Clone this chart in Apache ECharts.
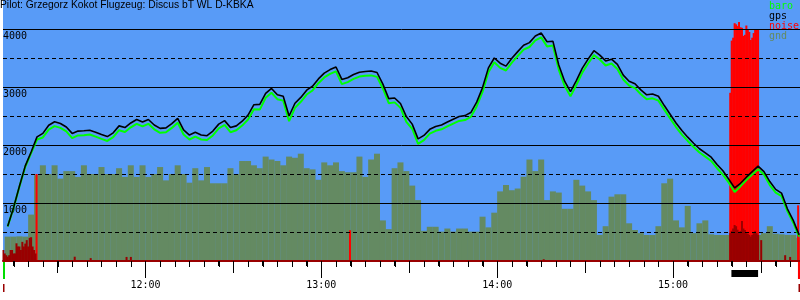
<!DOCTYPE html>
<html><head><meta charset="utf-8">
<script src="https://cdn.jsdelivr.net/npm/echarts@6/dist/echarts.min.js"></script>
<style>html,body{margin:0;padding:0;background:#fff}#c{width:800px;height:300px}</style>
</head><body><div id="c"></div>
<script>
// ---- data ----
const titleText = 'Pilot: Grzegorz Kokot Flugzeug: Discus bT WL D-KBKA';
const axisStart = '11:11:24';
const axisEnd = '15:43:18';
const trackTimes = [
'11:13','11:15','11:17','11:19','11:21','11:23','11:25','11:27','11:29','11:31','11:33','11:35','11:37','11:39','11:41','11:43','11:45','11:47','11:49','11:51','11:53','11:55','11:57','11:59',
'12:01','12:03','12:05','12:07','12:09','12:11','12:13','12:15','12:17','12:19','12:21','12:23','12:25','12:27','12:29','12:31','12:33','12:35','12:37','12:39','12:41','12:43','12:45','12:47','12:49','12:51','12:53','12:55','12:57','12:59',
'13:01','13:03','13:05','13:07','13:09','13:11','13:13','13:15','13:17','13:19','13:21','13:23','13:25','13:27','13:29','13:31','13:33','13:35','13:37','13:39','13:41','13:43','13:45','13:47','13:49','13:51','13:53','13:55','13:57','13:59',
'14:01','14:03','14:05','14:07','14:09','14:11','14:13','14:15','14:17','14:19','14:21','14:23','14:25','14:27','14:29','14:31','14:33','14:35','14:37','14:39','14:41','14:43','14:45','14:47','14:49','14:51','14:53','14:55','14:57','14:59',
'15:01','15:03','15:05','15:07','15:09','15:11','15:13','15:15','15:17','15:19','15:21','15:23','15:25','15:27','15:29','15:31','15:33','15:35','15:37','15:39','15:41','15:43'];
const gps = [
600,920,1290,1640,1880,2140,2200,2340,2400,2370,
2310,2200,2240,2245,2255,2220,2180,2145,2210,2330,
2300,2380,2440,2395,2440,2345,2287,2295,2370,2460,
2260,2172,2220,2172,2160,2240,2360,2420,2300,2330,
2410,2515,2695,2700,2890,2975,2865,2840,2500,2720,
2820,2945,3015,3140,3240,3300,3345,3130,3160,3215,
3255,3268,3276,3250,3050,2800,2810,2715,2490,2360,
2105,2165,2270,2320,2345,2395,2445,2490,2506,2560,
2740,2990,3330,3500,3410,3360,3495,3610,3720,3765,
3880,3930,3780,3790,3380,3100,2920,3110,3320,3480,
3626,3550,3450,3480,3390,3205,3100,3055,2950,2865,
2880,2840,2680,2530,2380,2250,2135,2030,1935,1865,
1790,1665,1555,1410,1260,1340,1445,1540,1635,1540,
1370,1235,1170,900,700,450];
const baro = [
595,915,1280,1625,1860,2095,2130,2265,2325,2295,
2235,2120,2165,2170,2180,2145,2105,2070,2135,2255,
2225,2305,2365,2320,2365,2270,2210,2220,2295,2385,
2180,2095,2145,2095,2085,2165,2285,2345,2220,2255,
2335,2440,2615,2610,2815,2900,2790,2765,2410,2640,
2745,2870,2940,3065,3165,3225,3270,3050,3085,3140,
3180,3193,3200,3175,2975,2720,2735,2640,2400,2280,
2020,2085,2195,2245,2270,2320,2370,2415,2430,2485,
2665,2915,3255,3425,3330,3285,3420,3535,3645,3690,
3805,3855,3700,3715,3300,3020,2840,3035,3245,3405,
3550,3475,3370,3405,3310,3130,3025,2980,2875,2790,
2805,2765,2610,2460,2310,2180,2070,1965,1870,1800,
1725,1600,1490,1350,1190,1290,1395,1490,1580,1490,
1310,1180,1120,860,660,420];
const gnd = [
420,420,425,420,800,1480,1650,1500,1650,1420,
1550,1550,1450,1650,1500,1500,1620,1500,1500,1600,
1450,1650,1450,1650,1450,1500,1620,1390,1500,1650,
1500,1350,1600,1390,1620,1340,1340,1340,1600,1500,
1724,1724,1650,1600,1800,1750,1724,1650,1800,1780,
1850,1600,1580,1400,1700,1650,1700,1550,1530,1530,
1800,1450,1750,1850,700,550,1600,1700,1550,1300,
1050,520,590,590,506,560,506,560,560,506,
506,764,580,833,1200,1310,1220,1250,1453,1750,
1550,1750,1050,1200,1180,900,900,1400,1300,1200,
1050,450,600,1109,1150,1150,650,534,480,448,
448,600,1340,1420,700,580,950,480,650,700,
460,448,448,448,448,448,448,448,448,480,
600,470,460,450,450,400];
const noiseTimes = ['11:22:51','13:09:47',
'15:19:30','15:20:00','15:20:30','15:21:00','15:21:30','15:22:00','15:22:30','15:23:00','15:23:30','15:24:00',
'15:24:30','15:25:00','15:25:30','15:26:00','15:26:30','15:27:00','15:27:30','15:28:00','15:28:30','15:29:00',
'15:42:40','15:42:50'];
const noiseValues = [1500,530,
2900,3800,3850,4100,4080,4050,4120,4030,4020,3880,
3900,4060,3990,3950,3810,3850,3930,3990,4000,3990,
960,480];
const noiseDarkTimes = ['11:11:30','11:12:00','11:12:30','11:13:00','11:13:30','11:14:00','11:14:30','11:15:00','11:15:30','11:16:00',
'11:16:30','11:17:00','11:17:30','11:18:00','11:18:30','11:19:00','11:19:30','11:20:00','11:20:30','11:21:00','11:21:30','11:22:00','11:22:30',
'11:35:52','11:41:19','11:53:33','11:55:01','14:15:52',
'15:19:30','15:20:00','15:20:30','15:21:00','15:21:30','15:22:00','15:22:30','15:23:00','15:23:30','15:24:00',
'15:24:30','15:25:00','15:25:30','15:26:00','15:26:30','15:27:00','15:27:30','15:28:00','15:28:30','15:29:00',
'15:30:04','15:38:14','15:39:56'];
const noiseDarkValues = [190,130,100,75,100,190,190,130,130,305,
250,250,190,330,250,300,360,250,400,410,250,190,130,
74,50,70,70,30,
480,520,560,620,600,540,500,520,690,560,
535,480,470,450,420,450,480,520,480,450,
360,100,70];
const eventStart = ['11:11:24','15:19:54','15:42:36'];
const eventEnd = ['11:12:05','15:29:00','15:43:18'];
const eventKind = ['takeoff','engine','landing'];
const hourTicks = ['12:00','13:00','14:00','15:00'];
const halfHourTicks = ['11:30','12:30','13:30','14:30','15:30'];
const legendNames = ['baro','gps','noise','gnd'];

// ---- helpers ----
function tm(s){ const p = s.split(':').map(Number); return p[0]*60 + p[1] + (p[2]||0)/60; }
function fmt(v){ const h = Math.floor(v/60 + 1e-6); const m = Math.round(v - h*60); return h + ':' + (m<10?'0':'') + m; }
const xMin = tm(axisStart), xMax = tm(axisEnd);
const minorTicks = [];
for (let v = Math.ceil(xMin/5)*5; v <= xMax; v += 5) minorTicks.push(v);

const C = { bg:'#589bf7', gnd:'#648a62', baro:'#00ff00', gps:'#000000', noise:'#ff0000', dark:'#990000' };
const mono = 'DejaVu Sans Mono';

function xAx(ticks, len, labels, showLine){
  return {
    type:'value', min:xMin, max:xMax, gridIndex:0, position:'bottom', offset:0, z:3,
    axisLine:{ show: showLine, lineStyle:{ color:C.dark, width:2 } },
    axisTick: ticks ? { show:true, customValues:ticks, length:len, lineStyle:{ color:'#000', width:1 } } : { show:false },
    axisLabel: labels ? { show:true, customValues:labels, formatter:fmt, margin:19, color:'#000', fontFamily:mono, fontSize:10 }
                      : { show:false },
    splitLine:{ show:false }
  };
}

const chart = echarts.init(document.getElementById('c'), null, { renderer:'canvas' });
chart.setOption({
  animation:false,
  backgroundColor:'#ffffff',
  title:{ text:titleText, left:0, top:0, padding:0,
    textStyle:{ fontFamily:'Liberation Sans', fontSize:10.3, fontWeight:'normal', color:'#000' } },
  legend:{
    orient:'vertical', left:764, top:1, itemGap:0, itemWidth:0, itemHeight:0, padding:0,
    selectedMode:false, icon:'rect',
    textStyle:{ fontFamily:mono, fontSize:10, lineHeight:10 },
    data: legendNames.map(n => ({ name:n, textStyle:{ color:C[n] } }))
  },
  grid:{ left:0, right:0, top:0, bottom:39, show:true, backgroundColor:C.bg, borderWidth:0 },
  xAxis:[
    xAx(null, 0, null, true),              // series axis (gnd, lines, events)
    xAx(null, 0, null, false),             // noise bars
    xAx(minorTicks, 5, null, false),       // 5-minute ticks
    xAx(halfHourTicks.map(tm), 12, null, false),
    xAx(hourTicks.map(tm), 17, hourTicks.map(tm), false)
  ],
  yAxis:[
    { type:'value', min:0, max:4500, interval:1000, z:3,
      axisLine:{show:false}, axisTick:{show:false},
      axisLabel:{ inside:true, margin:0, showMinLabel:false, showMaxLabel:false, verticalAlign:'top', padding:[2,0,0,0],
        formatter:(v)=>String(v), color:'#000', fontFamily:mono, fontSize:10 },
      splitLine:{ show:true, showMinLine:false, showMaxLine:false, lineStyle:{ color:'#000', width:1 } } },
    { type:'value', min:0, max:4500, interval:500, z:3,
      axisLine:{show:false}, axisTick:{show:false}, axisLabel:{show:false},
      splitLine:{ show:true, showMinLine:false, showMaxLine:false, lineStyle:{ color:'#000', width:1, type:[4,3] } } }
  ],
  series:[
    { name:'gnd', type:'bar', xAxisIndex:0, yAxisIndex:0, z:1, barWidth:6,
      itemStyle:{ color:C.gnd }, data: trackTimes.map((t,i)=>[tm(t), gnd[i]]) },
    { name:'noise', type:'bar', xAxisIndex:1, yAxisIndex:0, z:2, barWidth:2, barGap:'-100%',
      itemStyle:{ color:C.noise }, data: noiseTimes.map((t,i)=>[tm(t), noiseValues[i]]) },
    { name:'noiseDark', type:'bar', xAxisIndex:1, yAxisIndex:0, z:2, barWidth:2, barGap:'-100%',
      itemStyle:{ color:C.dark }, data: noiseDarkTimes.map((t,i)=>[tm(t), noiseDarkValues[i]]) },
    { name:'baro', type:'line', xAxisIndex:0, yAxisIndex:0, z:4, showSymbol:false, symbol:'none',
      lineStyle:{ color:C.baro, width:2 }, itemStyle:{ color:C.baro },
      data: trackTimes.map((t,i)=>[tm(t), baro[i]]) },
    { name:'gps', type:'line', xAxisIndex:0, yAxisIndex:0, z:5, showSymbol:false, symbol:'none',
      lineStyle:{ color:C.gps, width:1.6 }, itemStyle:{ color:C.gps },
      data: trackTimes.map((t,i)=>[tm(t), gps[i]]) },
    { name:'minorTickMarks', type:'custom', xAxisIndex:0, yAxisIndex:0, z:6, clip:false, silent:true,
      data: minorTicks.map(v=>[v, 0]),
      renderItem:function(params, api){
        const p = api.coord([api.value(0), 0]);
        const x = Math.round(p[0]) + 0.5;
        return { type:'line', shape:{ x1:x, y1:p[1], x2:x, y2:p[1]+6 }, style:{ stroke:'#000', lineWidth:1 } };
      } },
    { name:'events', type:'custom', xAxisIndex:0, yAxisIndex:0, z:6, clip:false,
      data: eventStart.map((s,i)=>[tm(s), tm(eventEnd[i]), i]),
      renderItem:function(params, api){
        const a = api.coord([api.value(0), 0]);
        const b = api.coord([api.value(1), 0]);
        const kind = eventKind[api.value(2)];
        const x0 = a[0], x1 = b[0], yb = a[1];
        if (kind === 'engine') {
          return { type:'rect', shape:{ x:x0, y:yb+9, width:x1-x0, height:7 }, style:{ fill:'#000' } };
        }
        const col = kind === 'takeoff' ? '#00dd00' : C.noise;
        const mx = kind === 'takeoff' ? x0 : x1 - 1.5;
        return { type:'group', children:[
          { type:'rect', shape:{ x:x0, y:yb+1, width:x1-x0, height:17 }, style:{ fill:col } },
          { type:'rect', shape:{ x:mx, y:yb+23, width:1.5, height:8 }, style:{ fill:C.dark } }
        ]};
      } }
  ]
});
</script></body></html>
